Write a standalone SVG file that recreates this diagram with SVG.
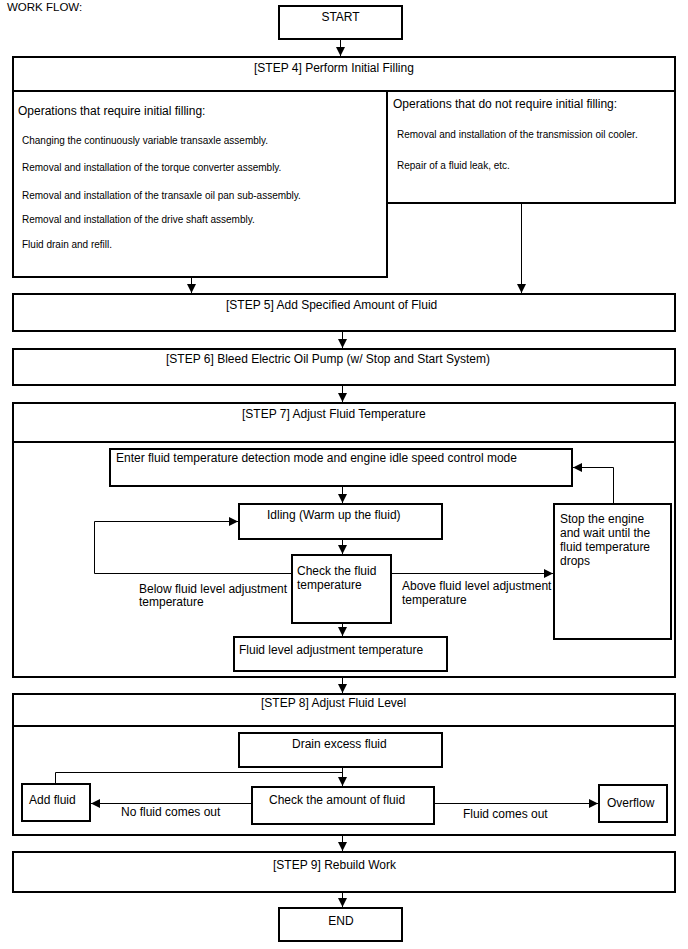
<svg xmlns="http://www.w3.org/2000/svg" width="688" height="949" viewBox="0 0 688 949">
<style>
text{font-family:"Liberation Sans",Arial,sans-serif;fill:#000;}
.h{font-size:12px;}
.s{font-size:10px;}
.b{fill:#fff;stroke:#000;stroke-width:2;}
.c{fill:none;stroke:#000;stroke-width:1;}
</style>
<defs>
<marker id="a" markerUnits="userSpaceOnUse" markerWidth="10" markerHeight="10" refX="9" refY="4.5" orient="auto">
<path d="M0,0 L9,4.5 L0,9 Z" fill="#000"/>
</marker>
</defs>
<rect width="688" height="949" fill="#fff"/>
<text class="h" x="7" y="11" style="font-size:11.5px">WORK FLOW:</text>

<g id="start"><rect class="b" x="279" y="6" width="123" height="33"/><text class="h" x="340.5" y="21" text-anchor="middle">START</text></g>

<g id="step4">
<rect class="b" x="13" y="57" width="662" height="34"/>
<text class="h" x="254" y="72">[STEP 4] Perform Initial Filling</text>
</g>
<g id="req">
<rect class="b" x="13" y="91" width="374" height="186"/>
<text class="h" x="18" y="115">Operations that require initial filling:</text>
<text class="s" x="22" y="144">Changing the continuously variable transaxle assembly.</text>
<text class="s" x="22" y="171">Removal and installation of the torque converter assembly.</text>
<text class="s" x="22" y="199">Removal and installation of the transaxle oil pan sub-assembly.</text>
<text class="s" x="22" y="223">Removal and installation of the drive shaft assembly.</text>
<text class="s" x="22" y="248">Fluid drain and refill.</text>
</g>
<g id="noreq">
<rect class="b" x="387" y="91" width="288" height="112"/>
<text class="h" x="393" y="108">Operations that do not require initial filling:</text>
<text class="s" x="397" y="138">Removal and installation of the transmission oil cooler.</text>
<text class="s" x="397" y="169">Repair of a fluid leak, etc.</text>
</g>

<g id="step5"><rect class="b" x="13" y="294" width="662" height="37"/><text class="h" x="226" y="309">[STEP 5] Add Specified Amount of Fluid</text></g>
<g id="step6"><rect class="b" x="13" y="349" width="662" height="36"/><text class="h" x="166" y="363">[STEP 6] Bleed Electric Oil Pump (w/ Stop and Start System)</text></g>

<g id="step7">
<rect class="b" x="13" y="403" width="662" height="39"/>
<text class="h" x="242" y="418">[STEP 7] Adjust Fluid Temperature</text>
<rect class="b" x="13" y="442" width="662" height="235"/>
</g>
<g id="enter"><rect class="b" x="110" y="449" width="462" height="37"/><text class="h" x="116" y="462">Enter fluid temperature detection mode and engine idle speed control mode</text></g>
<g id="idling"><rect class="b" x="239" y="504" width="203" height="35"/><text class="h" x="267" y="519">Idling (Warm up the fluid)</text></g>
<g id="checktemp"><rect class="b" x="292" y="555" width="99" height="68"/><text class="h" x="297" y="575">Check the fluid</text><text class="h" x="297" y="589">temperature</text></g>
<g id="adjtemp"><rect class="b" x="234" y="637" width="213" height="34"/><text class="h" x="239" y="654">Fluid level adjustment temperature</text></g>
<g id="stop"><rect class="b" x="554" y="504" width="117" height="135"/>
<text class="h" x="560" y="523">Stop the engine</text>
<text class="h" x="560" y="537">and wait until the</text>
<text class="h" x="560" y="551">fluid temperature</text>
<text class="h" x="560" y="564.5">drops</text></g>

<g id="step8">
<rect class="b" x="13" y="694" width="662" height="32"/>
<text class="h" x="261" y="707">[STEP 8] Adjust Fluid Level</text>
<rect class="b" x="13" y="726" width="662" height="109"/>
</g>
<g id="drain"><rect class="b" x="239" y="733" width="203" height="34"/><text class="h" x="292" y="748">Drain excess fluid</text></g>
<g id="add"><rect class="b" x="22" y="784" width="68" height="37"/><text class="h" x="29" y="804">Add fluid</text></g>
<g id="checkamt"><rect class="b" x="252" y="787" width="182" height="37"/><text class="h" x="269" y="804">Check the amount of fluid</text></g>
<g id="overflow"><rect class="b" x="599" y="785" width="68" height="37"/><text class="h" x="607" y="807">Overflow</text></g>

<g id="step9"><rect class="b" x="13" y="852" width="662" height="40"/><text class="h" x="273" y="869">[STEP 9] Rebuild Work</text></g>
<g id="end"><rect class="b" x="279" y="908" width="123" height="33"/><text class="h" x="341" y="925" text-anchor="middle">END</text></g>

<g id="connectors">
<path class="c" d="M340.5,39 V56" marker-end="url(#a)"/>
<path class="c" d="M191.5,278 V293" marker-end="url(#a)"/>
<path class="c" d="M521.5,204 V293" marker-end="url(#a)"/>
<path class="c" d="M342.5,332 V348" marker-end="url(#a)"/>
<path class="c" d="M342.5,386 V402" marker-end="url(#a)"/>
<path class="c" d="M342.5,487 V503" marker-end="url(#a)"/>
<path class="c" d="M342.5,540 V554" marker-end="url(#a)"/>
<path class="c" d="M342.5,624 V636" marker-end="url(#a)"/>
<path class="c" d="M291,573.5 H94.5 V521.5 H238" marker-end="url(#a)"/>
<path class="c" d="M392,573.5 H553" marker-end="url(#a)"/>
<path class="c" d="M613.5,503 V467.5 H573" marker-end="url(#a)"/>
<path class="c" d="M342.5,678 V693" marker-end="url(#a)"/>
<path class="c" d="M342.5,768 V786" marker-end="url(#a)"/>
<path class="c" d="M55.5,783 V772.5 H342.5"/>
<path class="c" d="M251,803.5 H91" marker-end="url(#a)"/>
<path class="c" d="M435,803.5 H598" marker-end="url(#a)"/>
<path class="c" d="M342.5,836 V851" marker-end="url(#a)"/>
<path class="c" d="M342.5,893 V907" marker-end="url(#a)"/>
</g>
<g id="labels">
<text class="h" x="139" y="593">Below fluid level adjustment</text>
<text class="h" x="139" y="606">temperature</text>
<text class="h" x="402" y="590">Above fluid level adjustment</text>
<text class="h" x="402" y="604">temperature</text>
<text class="h" x="121" y="816">No fluid comes out</text>
<text class="h" x="463" y="818">Fluid comes out</text>
</g>
</svg>
